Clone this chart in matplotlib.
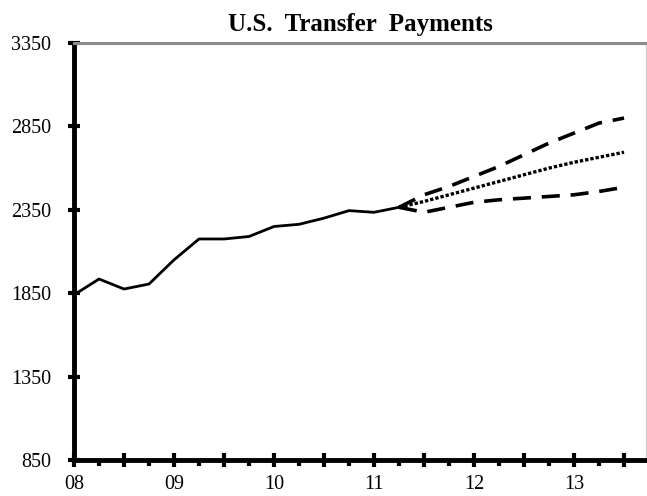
import numpy as np
import matplotlib.pyplot as plt
from matplotlib.ticker import MultipleLocator, FuncFormatter

# history, quarterly from 2008 Q1
hist_x = [2008.0, 2008.25, 2008.5, 2008.75, 2009.0, 2009.25, 2009.5, 2009.75,
          2010.0, 2010.25, 2010.5, 2010.75, 2011.0, 2011.25]
hist_y = [1840, 1935, 1875, 1905, 2050, 2175, 2175, 2190,
          2250, 2263, 2300, 2345, 2335, 2365]

# forecast paths
fc_x = [2011.25, 2011.5, 2011.75, 2012.0, 2012.25, 2012.5, 2012.75, 2013.0, 2013.25, 2013.5]
fc_high = [2365, 2440, 2490, 2550, 2610, 2680, 2750, 2810, 2870, 2900]
fc_mid = [2365, 2400, 2440, 2480, 2520, 2560, 2600, 2635, 2665, 2695]
fc_low = [2365, 2335, 2365, 2395, 2410, 2420, 2430, 2440, 2460, 2485]

yticks = [850, 1350, 1850, 2350, 2850, 3350]
year_labels = {2008: "08", 2009: "09", 2010: "10", 2011: "11", 2012: "12", 2013: "13"}

plt.rcParams['font.family'] = ['Liberation Serif', 'DejaVu Serif']

fig = plt.figure(figsize=(6.47, 4.96), dpi=100)
ax = fig.add_axes([0.1144, 0.0726, 0.8841, 0.8407])

ax.plot(hist_x, hist_y, color='black', lw=2.0, solid_joinstyle='round')
ax.plot(fc_x, fc_high, color='black', lw=2.6, dashes=(5, 3))
ax.plot(fc_x, fc_mid, color='black', lw=2.4, dashes=(1, 0.6))
ax.plot(fc_x, fc_low, color='black', lw=2.6, dashes=(5, 3))

ax.set_xlim(2008, 2013.72)
ax.set_ylim(850, 3350)
ax.set_yticks(yticks)

ax.xaxis.set_major_locator(MultipleLocator(0.5))
ax.xaxis.set_minor_locator(MultipleLocator(0.25))
ax.xaxis.set_major_formatter(FuncFormatter(
    lambda v, p: year_labels.get(int(round(v)), "") if abs(v - round(v)) < 1e-6 else ""))

ax.tick_params(axis='x', which='major', direction='inout', length=10, width=3, labelsize=14.5, pad=6)
ax.tick_params(axis='x', which='minor', direction='out', length=4, width=3)
ax.tick_params(axis='y', which='major', direction='inout', length=9, width=3, labelsize=14.5, pad=12)

for s in ['left', 'bottom']:
    ax.spines[s].set_linewidth(3.5)
    ax.spines[s].set_color('black')
ax.spines['top'].set_color('#8c8c8c')
ax.spines['top'].set_linewidth(2.2)
ax.spines['right'].set_color('#cccccc')
ax.spines['right'].set_linewidth(1)

ax.set_title("U.S.  Transfer  Payments", fontsize=18, fontweight='bold', pad=9)

fig.savefig("out.png", dpi=100)
